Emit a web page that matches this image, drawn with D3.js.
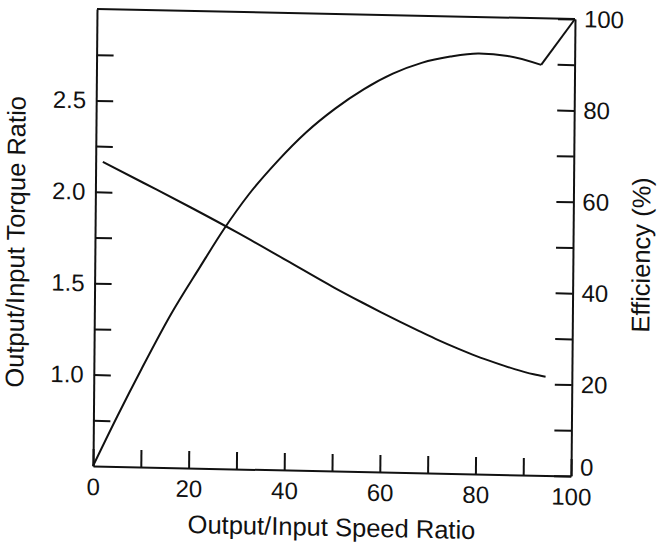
<!DOCTYPE html>
<html>
<head>
<meta charset="utf-8">
<script src="https://cdn.jsdelivr.net/npm/d3@7"></script>
<style>
  body { margin: 0; background: #fff; }
  svg { display: block; }
  text { font-family: "Liberation Sans", Arial, sans-serif; fill: #111; }
  .axis path, .axis line { stroke: #111; stroke-width: 2; }
  .curve { fill: none; stroke: #111; stroke-width: 2; }
</style>
</head>
<body>
<svg></svg>
<script>
// efficiency (%) vs speed ratio, the last point comes after a sharp kink
const effSpeed = [0, 5, 10, 16, 22, 27, 32, 38, 44, 50, 56, 62, 68, 74, 80, 86, 93, 100];
const effValues = [0, 11, 21.5, 33.5, 44, 52.5, 60, 67.5, 74, 79.3, 83.7, 87.2, 89.7, 91.2, 92, 91.6, 89.8, 100];
const kinkIndex = 16;

// torque ratio vs speed ratio
const torqueSpeed = [1.5, 10, 20, 30, 40, 50, 56, 60, 64, 68, 72, 76, 80, 84, 88, 92, 94.5];
const torqueValues = [2.165, 2.055, 1.925, 1.79, 1.648, 1.505, 1.425, 1.373, 1.323, 1.275, 1.228, 1.185, 1.145, 1.11, 1.078, 1.052, 1.04];

const xTicks = [0, 10, 20, 30, 40, 50, 60, 70, 80, 90, 100];
const xLabels = [0, 20, 40, 60, 80, 100];
const leftTicks = [0.75, 1.0, 1.25, 1.5, 1.75, 2.0, 2.25, 2.5, 2.75];
const leftLabels = [1.0, 1.5, 2.0, 2.5];
const rightTicks = [10, 20, 30, 40, 50, 60, 70, 80, 90, 100];
const rightLabels = [0, 20, 40, 60, 80, 100];

window.onload = () => {
    let width = 660, height = 546;
    let w = 478, h = 457;

    let svg = d3.select("svg")
        .attr("width", width)
        .attr("height", height);

    // the scanned figure is slightly skewed, so the whole chart sits in a tilted group
    let g = svg.append("g")
        .attr("transform", "matrix(1, 0.0209, -0.00875, 1, 97, 9)");

    let x = d3.scaleLinear().domain([0, 100]).range([0, w]);
    let yLeft = d3.scaleLinear().domain([0.5, 3.0]).range([h, 0]);
    let yRight = d3.scaleLinear().domain([0, 100]).range([h, 0]);

    let has = (list, v) => list.some(d => Math.abs(d - v) < 1e-6);

    g.append("g")
        .attr("class", "axis")
        .attr("transform", "translate(0," + h + ")")
        .call(d3.axisBottom(x)
            .tickValues(xTicks)
            .tickSize(-17)
            .tickSizeOuter(0)
            .tickPadding(12)
            .tickFormat(d => has(xLabels, d) ? d : ""));

    g.append("g")
        .attr("class", "axis")
        .call(d3.axisLeft(yLeft)
            .tickValues(leftTicks)
            .tickSize(-17)
            .tickSizeOuter(0)
            .tickPadding(10)
            .tickFormat(d => has(leftLabels, d) ? d3.format(".1f")(d) : ""));

    let right = g.append("g")
        .attr("class", "axis")
        .attr("transform", "translate(" + w + ",0)")
        .call(d3.axisRight(yRight)
            .tickValues([0].concat(rightTicks))
            .tickSize(-17)
            .tickSizeOuter(0)
            .tickPadding(9)
            .tickFormat(d => has(rightLabels, d) ? d : ""));
    right.selectAll(".tick")
        .filter(d => d === 0)
        .select("text")
        .attr("dy", "-0.05em");

    g.selectAll(".axis text")
        .style("font-size", "24px")
        .style("font-family", '"Liberation Sans", Arial, sans-serif')
        .attr("fill", "#111");

    // top border
    g.append("line")
        .attr("x1", 0).attr("y1", 0)
        .attr("x2", w).attr("y2", 0)
        .attr("stroke", "#111")
        .attr("stroke-width", 2);

    let effPts = effSpeed.map((s, i) => [s, effValues[i]]);
    let effLine = d3.line()
        .x(d => x(d[0]))
        .y(d => yRight(d[1]))
        .curve(d3.curveMonotoneX);

    g.append("path")
        .attr("class", "curve")
        .attr("d", effLine(effPts.slice(0, kinkIndex + 1)));

    g.append("path")
        .attr("class", "curve")
        .attr("d", effLine.curve(d3.curveLinear)(effPts.slice(kinkIndex)));

    let torqueLine = d3.line()
        .x((d, i) => x(torqueSpeed[i]))
        .y(d => yLeft(d))
        .curve(d3.curveMonotoneX);

    g.append("path")
        .attr("class", "curve")
        .attr("d", torqueLine(torqueValues));

    // axis titles
    g.append("text")
        .attr("x", w / 2)
        .attr("y", 522)
        .attr("text-anchor", "middle")
        .style("font-size", "25.5px")
        .text("Output/Input Speed Ratio");

    g.append("text")
        .attr("transform", "translate(-70.5,234.5) rotate(-90)")
        .attr("text-anchor", "middle")
        .style("font-size", "25.5px")
        .text("Output/Input Torque Ratio");

    g.append("text")
        .attr("transform", "translate(555,234.5) rotate(-90)")
        .attr("text-anchor", "middle")
        .style("font-size", "25.5px")
        .text("Efficiency (%)");
}
</script>
</body>
</html>
